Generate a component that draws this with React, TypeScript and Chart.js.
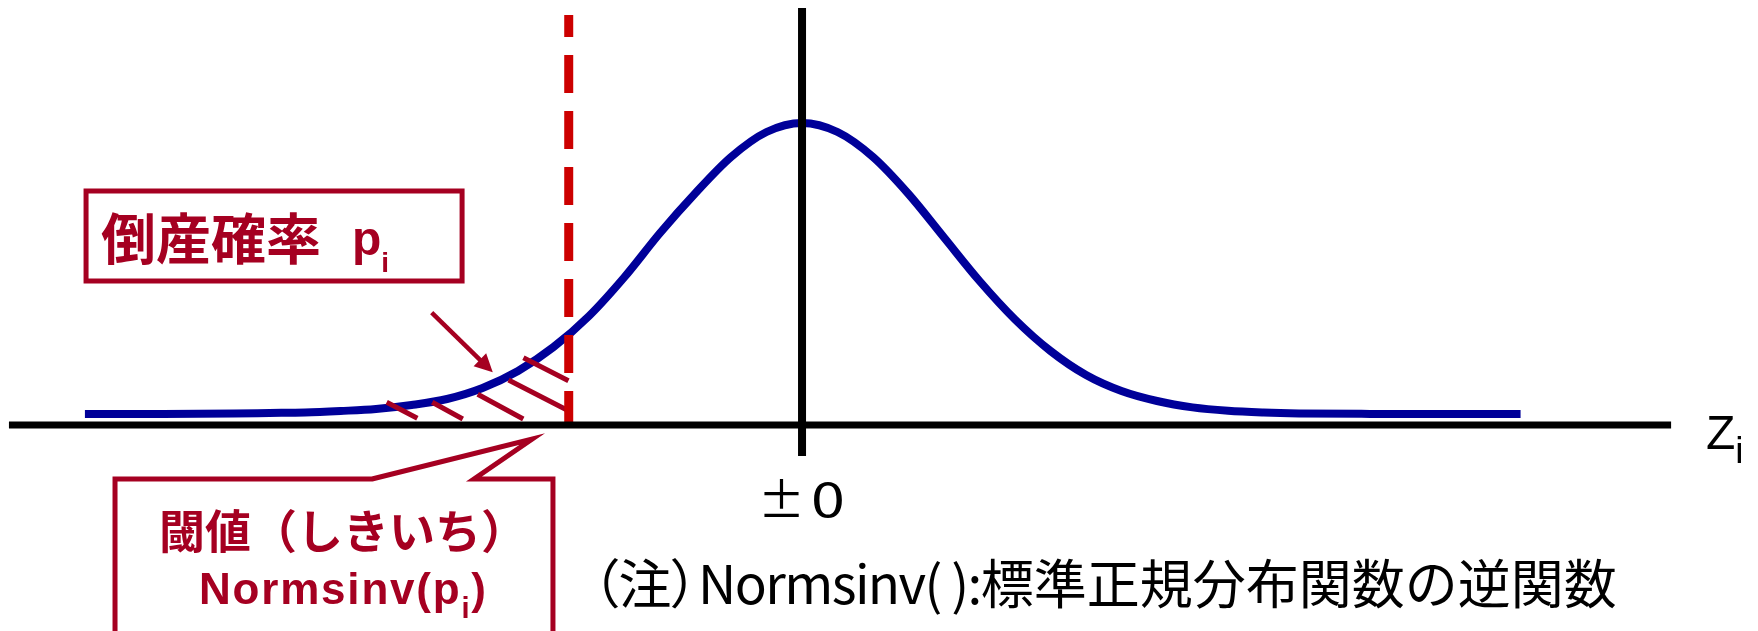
import React, { useEffect, useRef } from "react";
import { Chart, registerables } from "chart.js";

Chart.register(...registerables);

// ---- data (z in standard-deviation units, h = height above the Z axis) ----
const curveZ = [-5.05, -4.5, -4.0, -3.75, -3.5, -3.25, -3.0, -2.75, -2.5, -2.25, -2.0, -1.75, -1.5, -1.25, -1.0, -0.75, -0.5, -0.25, 0, 0.25, 0.5, 0.75, 1.0, 1.25, 1.5, 1.75, 2.0, 2.25, 2.5, 2.75, 3.0, 3.25, 3.5, 4.0, 4.5, 5.06];
const curveH = [0.11, 0.11, 0.115, 0.12, 0.125, 0.14, 0.16, 0.2, 0.26, 0.37, 0.54, 0.78, 1.09, 1.48, 1.92, 2.32, 2.68, 2.93, 3.02, 2.93, 2.68, 2.31, 1.875, 1.44, 1.055, 0.74, 0.5, 0.34, 0.24, 0.176, 0.142, 0.125, 0.116, 0.111, 0.11, 0.11];

const zAxisRange = [-5.585, 6.12];
const hAxisRange = [4.17, -0.31];
const thresholdZ = -1.643;
const thresholdTop = 4.1;

// hatch strokes of the shaded tail area (start z, start h, end z, end h)
const hatchZ0 = [-2.925, -2.604, -2.284, -2.067, -1.962];
const hatchH0 = [0.227, 0.227, 0.307, 0.45, 0.673];
const hatchZ1 = [-2.709, -2.389, -1.963, -1.645, -1.645];
const hatchH1 = [0.067, 0.06, 0.06, 0.143, 0.443];

// arrow pointing to the tail area
const arrowFrom = [-2.608, 1.123];
const arrowTo = [-2.178, 0.527];

// annotation frames: [left z, top h, right z, bottom h]
const pBoxFrame = [-5.042, 2.34, -2.394, 1.44];
const calloutFrame = [-4.838, -0.54, -1.754, -2.15];
const calloutTail = [-3.028, -1.9, -0.14, -2.31]; // base-left z, tip z, tip h, base-right z

const viewZ = [-5.648, 6.732];
const viewH = [-2.06, 4.25];

const RED = "#A50021";
const CJK = '"Noto Sans CJK JP", "Noto Sans CJK SC", sans-serif';
const LAT = '"Liberation Sans", Arial, sans-serif';

const annotationPlugin = {
  id: "annotations",
  afterDatasetsDraw(chart: any) {
    const ctx = chart.ctx;
    const xs = chart.scales.x;
    const ys = chart.scales.y;
    const px = (v: number) => xs.getPixelForValue(v);
    const py = (v: number) => ys.getPixelForValue(v);
    ctx.save();
    ctx.strokeStyle = RED;
    ctx.fillStyle = RED;
    ctx.lineJoin = "miter";

    // probability box
    ctx.lineWidth = 5;
    const [l, t, r, b] = pBoxFrame;
    ctx.strokeRect(px(l), py(t), px(r) - px(l), py(b) - py(t));

    // callout box with tail
    const [cl, ct, cr, cb] = calloutFrame;
    const [bl, tipZ, tipH, br] = calloutTail;
    ctx.beginPath();
    ctx.moveTo(px(bl), py(ct));
    ctx.lineTo(px(tipZ), py(tipH));
    ctx.lineTo(px(br), py(ct));
    ctx.lineTo(px(cr), py(ct));
    ctx.lineTo(px(cr), py(cb));
    ctx.lineTo(px(cl), py(cb));
    ctx.lineTo(px(cl), py(ct));
    ctx.closePath();
    ctx.stroke();

    // arrow
    const x0 = px(arrowFrom[0]);
    const y0 = py(arrowFrom[1]);
    const x1 = px(arrowTo[0]);
    const y1 = py(arrowTo[1]);
    const ang = Math.atan2(y1 - y0, x1 - x0);
    const headLen = 18;
    const headHalf = 9;
    const bx = x1 - headLen * Math.cos(ang);
    const by = y1 - headLen * Math.sin(ang);
    ctx.lineWidth = 4.5;
    ctx.lineCap = "butt";
    ctx.beginPath();
    ctx.moveTo(x0, y0);
    ctx.lineTo(bx + 2 * Math.cos(ang), by + 2 * Math.sin(ang));
    ctx.stroke();
    ctx.beginPath();
    ctx.moveTo(x1, y1);
    ctx.lineTo(bx - headHalf * Math.sin(ang), by + headHalf * Math.cos(ang));
    ctx.lineTo(bx + headHalf * Math.sin(ang), by - headHalf * Math.cos(ang));
    ctx.closePath();
    ctx.fill();
    ctx.restore();
  },
};

function Label(props: { x: number; y: number; style?: any; children?: any }) {
  return (
    <div
      style={{
        position: "absolute",
        left: props.x,
        top: 0,
        whiteSpace: "nowrap",
        lineHeight: "normal",
        ...props.style,
      }}
    >
      <span style={{ display: "inline-block", width: 0, height: props.y, verticalAlign: "baseline" }} />
      {props.children}
    </div>
  );
}

export default function App() {
  const canvasRef = useRef<HTMLCanvasElement | null>(null);

  useEffect(() => {
    const canvas = canvasRef.current;
    if (!canvas) return;

    const pts = (zs: number[], hs: number[]) => zs.map((z, i) => ({ x: z, y: hs[i] }));
    const hatchData: any[] = [];
    hatchZ0.forEach((z, i) => {
      hatchData.push({ x: z, y: hatchH0[i] });
      hatchData.push({ x: hatchZ1[i], y: hatchH1[i] });
      hatchData.push({ x: hatchZ1[i], y: null });
    });

    const chart = new Chart(canvas, {
      type: "line",
      data: {
        datasets: [
          {
            label: "Z axis",
            data: [{ x: zAxisRange[0], y: 0 }, { x: zAxisRange[1], y: 0 }],
            borderColor: "#000000",
            borderWidth: 7,
            pointRadius: 0,
            borderCapStyle: "butt",
          },
          {
            label: "vertical axis",
            data: [{ x: 0, y: hAxisRange[0] }, { x: 0, y: hAxisRange[1] }],
            borderColor: "#000000",
            borderWidth: 8,
            pointRadius: 0,
            borderCapStyle: "butt",
          },
          {
            label: "threshold",
            data: [{ x: thresholdZ, y: thresholdTop }, { x: thresholdZ, y: 0 }],
            borderColor: "#CC0000",
            borderWidth: 9,
            borderDash: [38, 18],
            borderDashOffset: 16,
            pointRadius: 0,
            borderCapStyle: "butt",
          },
          {
            label: "hatch",
            data: hatchData,
            borderColor: RED,
            borderWidth: 5,
            pointRadius: 0,
            spanGaps: false,
            borderCapStyle: "butt",
          },
          {
            label: "density",
            data: pts(curveZ, curveH),
            borderColor: "#000099",
            borderWidth: 8,
            pointRadius: 0,
            cubicInterpolationMode: "monotone",
            borderJoinStyle: "round",
            borderCapStyle: "butt",
          },
        ],
      },
      options: {
        animation: false,
        responsive: false,
        maintainAspectRatio: false,
        devicePixelRatio: 1,
        layout: { padding: 0 },
        plugins: { legend: { display: false }, tooltip: { enabled: false }, title: { display: false } },
        events: [],
        scales: {
          x: { type: "linear", min: viewZ[0], max: viewZ[1], display: false },
          y: { type: "linear", min: viewH[0], max: viewH[1], display: false },
        },
      },
      plugins: [annotationPlugin],
    } as any);

    return () => chart.destroy();
  }, []);

  return (
    <div style={{ position: "fixed", left: 0, top: 0, width: 1758, height: 631, background: "#fff", overflow: "hidden" }}>
      <canvas ref={canvasRef} width={1758} height={631} style={{ position: "absolute", left: 0, top: 0, width: 1758, height: 631 }} />
      <Label x={101} y={259} style={{ fontFamily: CJK, fontWeight: 700, fontSize: 55, color: RED }}>倒産確率</Label>
      <Label x={352} y={255} style={{ fontFamily: LAT, fontWeight: 700, fontSize: 48, color: RED }}>
        p<span style={{ fontSize: 28, verticalAlign: -17 }}>i</span>
      </Label>
      <Label x={159} y={548} style={{ fontFamily: CJK, fontWeight: 700, fontSize: 46, color: RED }}>閾値（しきいち）</Label>
      <Label x={199} y={604} style={{ fontFamily: LAT, fontWeight: 700, fontSize: 44, letterSpacing: 1.8, color: RED }}>
        Normsinv(p<span style={{ fontSize: 29, verticalAlign: -14 }}>i</span>)
      </Label>
      <Label x={758} y={517} style={{ fontFamily: CJK, fontWeight: 400, fontSize: 47, color: "#000" }}>
        ±<span style={{ display: "inline-block", marginLeft: 6, transform: "scaleX(1.3)", transformOrigin: "left bottom" }}>0</span>
      </Label>
      <Label x={1706} y={449} style={{ fontFamily: LAT, fontWeight: 400, fontSize: 48, color: "#000" }}>
        Z<span style={{ fontSize: 37, verticalAlign: -14 }}>i</span>
      </Label>
      <Label x={592} y={604} style={{ fontFamily: CJK, fontWeight: 400, fontSize: 53, color: "#000" }}>
        <span style={{ fontFeatureSettings: '"palt"' }}>（注）</span>
        <span style={{ letterSpacing: -1.6 }}>Normsinv( ):</span>
        標準正規分布関数の逆関数
      </Label>
    </div>
  );
}
